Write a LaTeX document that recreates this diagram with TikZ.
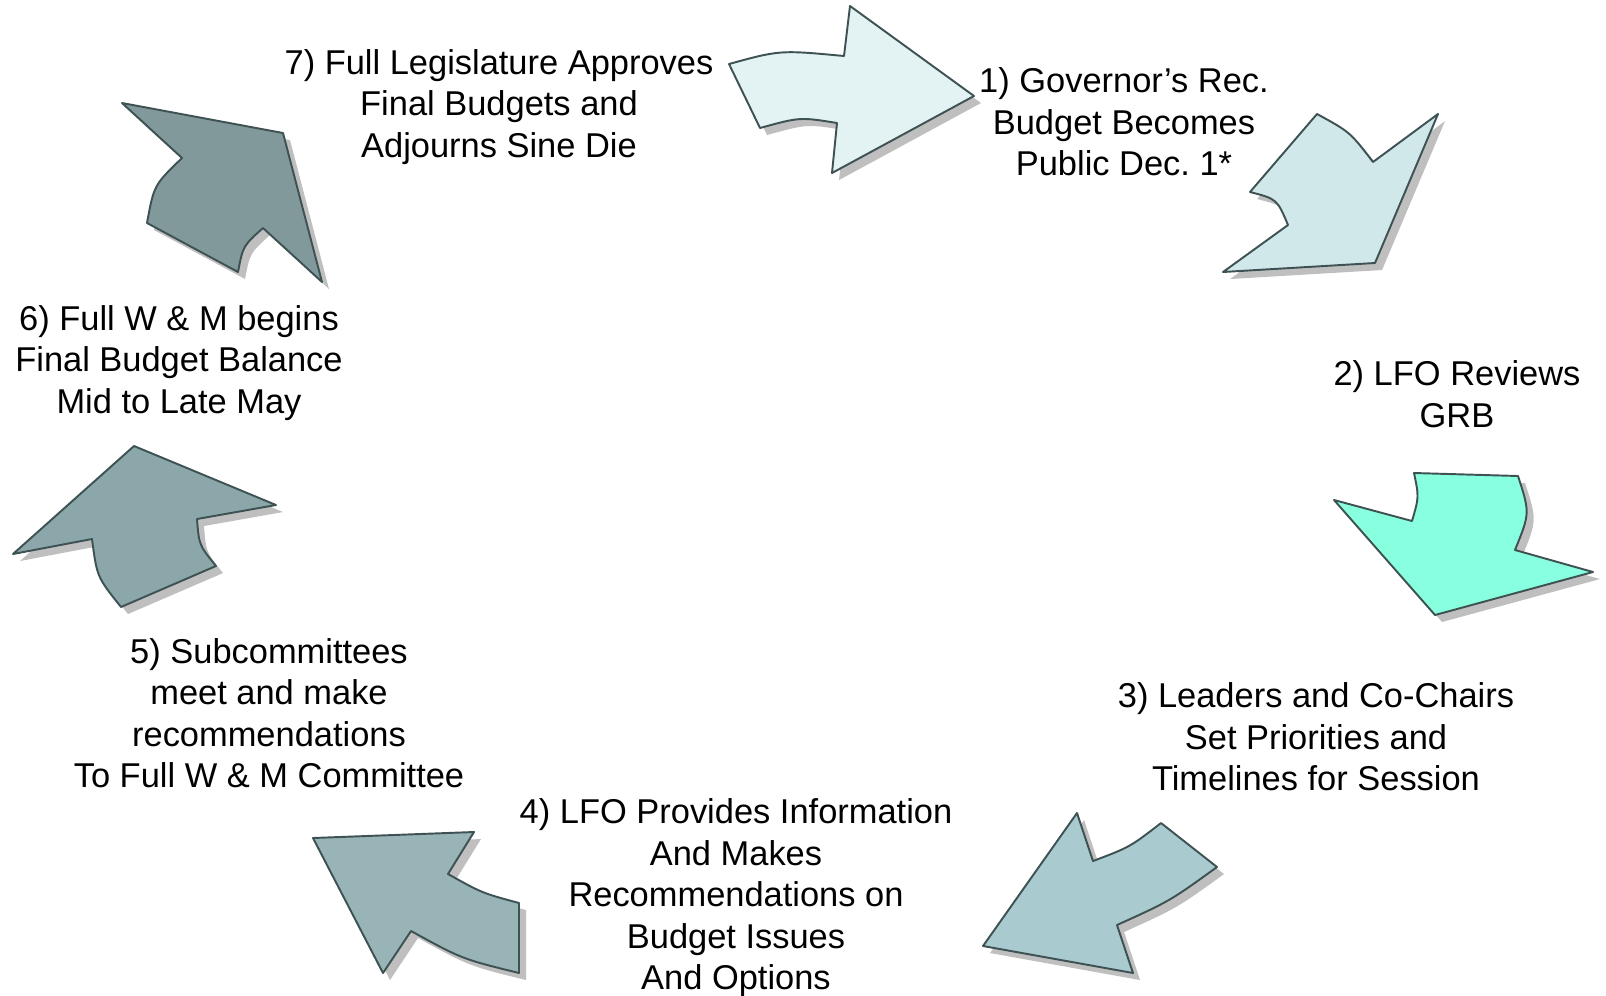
\documentclass[tikz,border=0pt]{standalone}
\usepackage{fontspec}
\setmainfont{Liberation Sans}
\usetikzlibrary{shadows}
\frenchspacing
\definecolor{stepone}{HTML}{E3F3F4}
\definecolor{steptwo}{HTML}{D1E8EA}
\definecolor{stepthree}{HTML}{88FFDF}
\definecolor{stepfour}{HTML}{A9CACE}
\definecolor{stepfive}{HTML}{98B4B6}
\definecolor{stepsix}{HTML}{8BA7AA}
\definecolor{stepseven}{HTML}{82999C}
\definecolor{rimgray}{HTML}{3E5254}

\begin{document}
\begin{tikzpicture}[x=0.02cm,y=-0.02cm,
  cyclearrow/.style={draw=rimgray,line width=1.1pt,line join=round,
    drop shadow={shadow xshift=4pt,shadow yshift=-4pt}},
  steptext/.style={align=center,inner sep=0pt,font=\fontsize{19.6}{23.6}\selectfont}]
  \useasboundingbox (0,0) rectangle (1606,995);
  % arrows of the cycle
  \draw[cyclearrow,fill=stepone] (729,64) .. controls (780,50) .. (844,56) -- (850,6) -- (974,96)
    -- (832,173) -- (837,123) .. controls (800,117) .. (760,128) -- cycle;
  \draw[cyclearrow,fill=steptwo] (1317,114) .. controls (1350,132) .. (1373,162) -- (1438,114)
    -- (1375,263) -- (1223,272) -- (1288,225) .. controls (1277,199) .. (1250,192) -- cycle;
  \draw[cyclearrow,fill=stepthree] (1412,521) .. controls (1419,497) .. (1414,473) -- (1518,476)
    .. controls (1530,513) .. (1515,550) -- (1593,572) -- (1435,615) -- (1334,500) -- cycle;
  \draw[cyclearrow,fill=stepfour] (1093,861) .. controls (1130,847) .. (1161,823) -- (1217,867)
    .. controls (1170,901) .. (1117,925) -- (1133,973) -- (983,946) -- (1077,813) -- cycle;
  \draw[cyclearrow,fill=stepfive] (313,838) -- (474,832) -- (448,874) .. controls (482,893) .. (519,903)
    -- (519,973) .. controls (462,959) .. (411,931) -- (383,973) -- cycle;
  \draw[cyclearrow,fill=stepsix] (134,446) -- (276,505) -- (197,519) .. controls (199,545) .. (216,566)
    -- (121,607) .. controls (97,577) .. (92,539) -- (13,554) -- cycle;
  \draw[cyclearrow,fill=stepseven] (122,103) -- (283,133) -- (322,282) -- (263,228)
    .. controls (243,246) .. (238,272) -- (147,223) .. controls (154,185) .. (182,158) -- cycle;
  % step texts
  \node[steptext] (govrec) at (1124,122) {1) Governor’s Rec.\\Budget Becomes\\Public Dec. 1*};
  \node[steptext] (lforev) at (1457,394) {2) LFO Reviews\\GRB};
  \node[steptext] (leaders) at (1316,737) {3) Leaders and Co-Chairs\\Set Priorities and\\Timelines for Session};
  \node[steptext] (lfoinfo) at (736,898) {4) LFO Provides Information\\And Makes\\Recommendations on\\Budget Issues\\And Options};
  \node[steptext] (subcom) at (269,713) {5) Subcommittees\\meet and make\\recommendations\\To Full W \& M Committee};
  \node[steptext] (fullwm) at (179,363) {6) Full W \& M begins\\Final Budget Balance\\Mid to Late May};
  \node[steptext] (legis) at (499,107) {7) Full Legislature Approves\\Final Budgets and\\Adjourns Sine Die};
\end{tikzpicture}
\end{document}
